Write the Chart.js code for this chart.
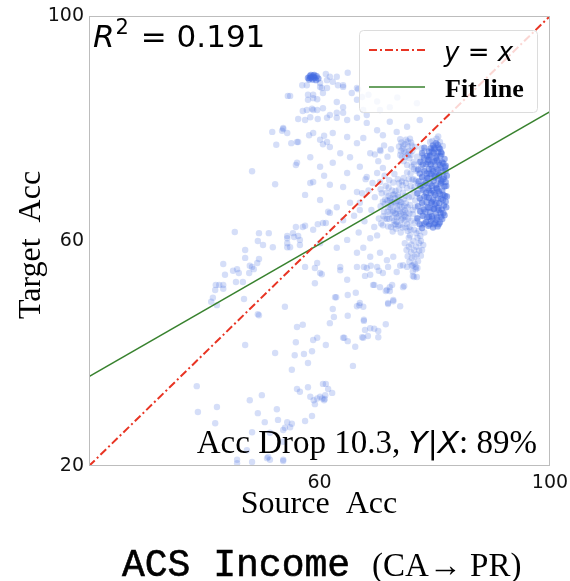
<!DOCTYPE html>
<html>
<head>
<meta charset="utf-8">
<script src="https://cdn.jsdelivr.net/npm/chart.js@4.4.1/dist/chart.umd.min.js"></script>
<style>
  html, body { margin: 0; padding: 0; background: #fff; }
  #wrap { width: 570px; height: 581px; }
</style>
</head>
<body>
<div id="wrap"><canvas id="c" width="570" height="581"></canvas></div>
<script>
// ---- data ----
const xTicks = [60, 100];
const yTicks = [20, 60, 100];
const identityLine = [[20, 20], [100, 100]];
const fitLine = [[20, 35.9], [100, 83.0]];
const rSquared = "0.191";
const accDrop = "10.3";
const yGivenX = "89%";

// dense blob at the top (many overlapping points)
const topBlobPoints = [
  [58.0,89.0],[58.3,89.3],[58.6,89.1],[58.9,89.4],[59.2,89.0],[59.5,89.3],[59.8,88.9],
  [58.2,88.7],[58.8,88.7],[59.4,88.6],[58.5,89.5],[59.1,89.5],[58.4,89.0],[59.0,89.1]
];

// solid core of the main cluster
const coreClusterPoints = [
  [78.5,63.4],[78.4,65.2],[78.6,66.9],[78.5,68.6],[78.4,70.3],[78.6,72.0],[78.5,73.7],[78.7,75.1],
  [78.9,62.7],[79.0,64.3],[78.8,66.0],[79.0,67.7],[78.9,69.4],[78.8,71.1],[79.0,72.8],[78.9,74.4],[79.0,75.9],
  [79.3,63.5],[79.2,65.1],[79.4,66.8],[79.3,68.5],[79.2,70.2],[79.4,71.9],[79.3,73.6],[79.2,75.2],[79.3,76.5],
  [79.7,62.4],[79.6,64.0],[79.8,65.7],[79.7,67.4],[79.6,69.0],[79.8,70.7],[79.7,72.4],[79.6,74.1],[79.8,75.7],[79.7,77.0],
  [80.1,63.2],[80.2,64.9],[80.0,66.5],[80.1,68.2],[80.2,69.9],[80.0,71.5],[80.1,73.2],[80.2,74.8],[80.0,76.3],[80.2,77.4],
  [80.5,62.6],[80.4,64.2],[80.6,65.9],[80.5,67.6],[80.4,69.3],[80.6,71.0],[80.5,72.7],[80.4,74.3],[80.6,75.8],[80.5,77.1],
  [80.9,63.3],[81.0,65.0],[80.8,66.7],[80.9,68.4],[81.0,70.1],[80.8,71.8],[80.9,73.5],[81.0,75.1],[80.9,76.4],
  [81.3,63.9],[81.2,65.6],[81.4,67.3],[81.3,69.0],[81.2,70.7],[81.4,72.4],[81.3,74.0],[81.2,75.5],
  [81.7,64.6],[81.6,66.3],[81.8,68.0],[81.7,69.7],[81.6,71.4],[81.8,73.1],[81.7,74.6],
  [82.0,66.0],[82.1,67.9],[82.0,69.8],[82.1,71.6],[81.9,73.4],
  [78.7,64.2],[78.6,67.8],[78.7,71.2],[78.8,74.0],
  [79.1,63.0],[79.1,65.9],[79.0,69.0],[79.1,72.0],[79.1,75.0],
  [79.5,64.4],[79.5,67.0],[79.5,69.8],[79.5,72.9],[79.5,75.9],
  [79.9,63.0],[79.9,65.8],[79.9,68.6],[79.9,71.3],[79.9,74.2],[79.9,76.6],
  [80.3,63.8],[80.3,66.7],[80.3,69.4],[80.3,72.2],[80.3,75.1],
  [80.7,63.0],[80.7,65.5],[80.7,68.8],[80.7,71.6],[80.7,74.0],[80.7,76.6],
  [81.1,64.3],[81.1,67.5],[81.1,70.4],[81.1,73.0],[81.1,75.8],
  [81.5,65.0],[81.5,68.2],[81.5,71.0],[81.5,73.8],
  [81.9,67.0],[81.9,70.5],[81.9,72.5],
  [77.0,64.0],[77.1,66.2],[77.0,68.5],[77.2,70.6],[77.1,72.7],
  [77.4,63.0],[77.5,65.3],[77.4,67.6],[77.5,69.8],[77.4,72.0],[77.5,74.1],
  [77.8,62.3],[77.9,64.5],[77.8,66.8],[77.9,69.1],[77.8,71.4],[77.9,73.6],[77.8,75.6],
  [78.2,63.1],[78.1,65.6],[78.2,67.9],[78.1,70.0],[78.2,72.4],[78.1,74.8],[78.2,76.6]
];

// medium-density groups around the core
const clusterPoints = [
  [76.6,66.0],[76.9,68.4],[77.1,70.2],[76.8,72.5],[77.3,74.0],[77.0,63.5],[77.4,65.2],[77.6,67.3],
  [77.5,69.4],[77.8,71.3],[77.6,73.1],[77.9,75.2],[77.2,61.8],[77.8,62.8],[78.0,64.4],[78.1,66.3],
  [78.0,68.9],[78.2,70.8],[78.1,72.7],[78.2,74.5],[77.7,76.5],[78.2,76.0],[76.4,62.0],[76.2,64.8],
  [76.5,69.6],[76.3,71.0],[77.0,60.6],[77.6,60.0],
  [74.0,75.3],[74.4,76.4],[74.8,77.2],[75.0,75.8],[75.4,76.8],[75.6,74.7],[75.9,77.5],[74.6,74.2],
  [75.2,73.5],[76.1,76.0],[74.2,77.5],[75.7,78.2],[73.8,76.8],[76.3,74.0],
  [74.1,76.0],[74.5,77.0],[74.9,75.0],[75.3,77.7],[75.6,76.0],[75.0,78.0],[74.3,75.0],[75.8,75.3],
  [76.0,77.0],[74.7,76.0],[75.4,75.4],[74.0,78.1],
  [75.8,72.0],[76.0,73.2],[75.5,71.0],[76.4,72.8],[75.2,72.2],
  [70.3,64.0],[70.6,66.2],[70.8,68.5],[71.0,62.8],[71.2,65.2],[71.4,67.4],[71.5,69.8],[71.7,63.9],
  [71.9,66.0],[72.0,68.0],[72.2,64.8],[72.4,62.5],[72.5,66.9],[72.6,69.0],[72.8,65.4],[73.0,63.6],
  [73.1,67.6],[73.3,64.8],[73.4,66.2],[73.6,68.2],[73.7,62.7],[73.9,65.3],[74.0,67.0],[74.2,63.8],
  [74.3,66.0],[74.5,68.6],[74.7,64.6],[74.9,62.4],[75.0,66.7],[75.2,69.4],[75.4,64.0],[70.5,70.5],
  [71.3,71.6],[72.1,70.8],[73.0,71.9],[73.8,70.3],[74.6,71.2],[72.7,61.7],[74.1,61.5],[75.6,62.5],
  [75.5,67.8],[72.9,67.0],[73.5,65.6],[72.3,65.9],[74.8,65.5],[73.2,68.9],[71.8,67.2],[74.4,69.9],
  [70.7,63.1],[71.1,64.4],[71.3,66.6],[71.6,68.6],[71.9,62.6],[72.1,63.9],[72.3,67.6],[72.6,64.1],
  [72.7,68.2],[72.9,62.9],[73.1,65.0],[73.2,66.7],[73.4,63.4],[73.5,67.1],[73.7,64.4],[73.8,69.2],
  [74.0,62.9],[74.1,64.9],[74.2,66.9],[74.4,62.4],[74.5,65.1],[74.6,67.4],[74.8,63.6],[74.9,68.0],
  [75.1,65.0],[75.2,63.0],[75.3,66.0],[72.0,69.5],[72.8,70.4],[73.6,71.0],[74.3,70.6],[71.4,64.0],
  [71.8,65.2],[72.4,66.4],[73.3,62.2],[74.7,66.2],[73.0,68.3],[71.0,67.0],[70.6,69.2],[75.0,70.3],
  [73.4,64.2],[73.9,66.4],[74.4,64.0],[72.7,65.2],[73.7,67.8],[74.9,64.3],[72.2,67.2],[73.2,63.0],
  [75.5,60.6],[75.8,62.0],[75.9,63.6],[76.2,65.5],[75.7,66.4],[76.0,67.9],[76.3,69.0],[75.8,69.8],
  [76.1,70.9],[76.5,63.2],[75.6,64.9],[76.6,67.2],[76.8,61.4],[76.9,64.1],[76.7,70.7],[76.4,73.6],
  [76.9,75.0],[76.6,76.7],[75.3,61.8],[75.9,59.4],
  [75.7,61.0],[76.3,60.0],[76.8,59.0],[77.3,58.3],[75.9,58.0],[76.5,57.2],[77.1,56.4],[76.0,55.6],
  [76.7,55.0],[77.5,60.9],[78.2,61.5],[74.8,59.6],[75.3,57.3],[78.0,59.3],[76.2,53.8],
  [75.5,59.0],[76.0,57.0],[76.4,58.4],[76.9,57.6],[77.3,59.6],[77.6,57.4],[76.5,56.0],[75.6,56.3],
  [77.0,55.2],[76.2,54.6],[77.8,58.4],[75.1,58.4],
  [79.6,77.8],[80.3,78.2],[80.9,77.6],[79.2,77.6],[81.4,76.9],[80.6,78.6],
  [66.0,64.5],[67.0,66.8],[67.8,63.5],[68.5,69.0],[69.0,65.5],[69.5,62.5],[68.0,71.0],[69.6,67.8],
  [66.8,61.5],[69.2,70.3],[70.0,61.0],[67.4,68.5],[68.8,60.5],
  [70.6,76.0],[71.2,77.0],[71.8,75.0],[70.2,74.2],[72.4,76.3],[69.6,75.4],[71.0,73.0]
];

// sparse scattered points
const scatterPoints = [
  [61.1,89.7],[57.8,87.7],[57.0,87.7],[54.9,85.8],[58.0,86.0],[58.9,86.0],[59.6,85.2],[58.0,85.1],
  [60.6,86.3],[61.3,87.2],[57.8,83.3],[57.1,83.1],[58.7,83.5],[59.6,83.3],[56.3,81.7],[57.5,81.5],
  [58.4,82.0],[59.7,81.7],[61.3,81.9],[51.8,79.4],[53.5,79.6],[54.4,79.2],[53.7,80.1],[58.2,78.8],
  [58.9,79.2],[60.8,78.7],[61.3,77.6],[52.5,77.1],[55.1,77.4],[56.3,77.6],[60.6,77.2],[48.3,72.4],
  [55.9,73.5],[60.8,71.6],[52.3,70.1],[58.4,70.3],[57.5,68.2],[61.5,65.2],[45.3,61.6],[49.5,61.4],
  [51.2,61.4],[55.9,62.5],[57.5,62.7],[59.7,63.0],[61.1,63.2],[54.4,60.9],[55.6,60.7],[61.3,88.6],
  [60.1,88.1],[60.4,87.2],
  [61.8,89.2],[62.3,88.3],[63.2,87.7],[64.1,87.4],[64.9,89.9],[66.7,87.0],[67.4,85.6],[60.1,87.4],
  [58.9,85.4],[58.9,83.3],[60.6,83.6],[61.8,82.4],[63.0,81.9],[64.1,82.8],[64.8,81.5],[66.5,81.9],
  [68.2,82.4],[70.5,83.3],[72.2,83.8],[68.2,81.0],[70.0,79.7],[71.0,78.8],[73.4,79.4],[75.2,80.3],
  [77.4,81.5],[76.9,84.5],[72.2,81.2],[56.1,77.6],[60.1,78.0],[62.3,79.2],[64.8,78.5],[66.5,77.4],
  [67.6,78.3],[68.8,75.6],[70.5,76.2],[61.8,76.7],[63.6,75.6],[65.3,74.9],[56.1,73.9],[58.4,74.9],
  [60.1,73.2],[62.3,73.9],[64.8,72.1],[67.0,73.2],[68.2,71.4],[70.0,72.1],[58.9,70.5],[61.8,70.0],
  [64.1,69.6],[66.5,68.7],[60.1,67.3],[63.0,66.0],[65.3,66.8],[67.0,65.5],[61.8,65.0],[64.1,63.7],
  [60.6,63.2],[58.9,62.0],[57.1,62.5],[55.4,61.4],[54.4,60.5],[54.4,58.9],[56.6,60.2],[60.1,59.6],
  [63.0,58.8],[64.8,60.2],[66.5,57.9],[67.6,58.8],[68.8,57.2],[70.5,57.9],[71.7,56.6],[72.8,57.2],
  [57.5,55.4],[59.6,56.1],[63.6,55.4],[66.5,55.4],[68.2,55.2],[70.0,55.4],[71.0,54.3],[73.4,54.5],
  [75.2,55.4],[76.2,55.7],[60.1,54.3],[59.2,52.5],[69.3,52.2],[70.5,51.8],[72.2,51.8],[74.5,51.8],
  [76.9,53.6],[64.8,53.1],
  [63.0,89.2],[64.1,87.7],[66.5,87.2],[65.6,86.3],[63.0,84.7],[64.1,83.8],[66.5,85.1],[67.6,83.3],
  [63.0,82.8],[68.5,86.0],[70.0,84.8],[73.5,85.5],
  [71.7,51.3],[72.6,52.2],[54.0,48.3],[62.7,50.0],[64.9,50.4],[66.3,50.8],[66.9,48.6],[62.3,47.9],
  [64.9,46.7],[67.7,46.0],[71.9,48.8],[72.8,49.3],[74.0,48.4],[56.1,44.7],[57.1,45.1],[61.8,45.4],
  [64.3,42.8],[64.9,42.2],[67.9,44.2],[68.8,44.5],[70.2,44.0],[71.5,45.2],[67.4,42.9],[68.4,43.1],
  [70.2,42.9],[55.9,42.0],[58.9,42.4],[61.1,41.5],[58.7,40.4],[57.3,39.9],[66.2,41.2],[58.0,38.3],
  [55.2,37.1],[65.8,37.8],[56.1,33.7],[56.6,33.2],[58.0,34.0],[60.6,34.6],[61.1,34.6],[61.5,33.7],
  [62.2,33.0],[58.4,32.3],[59.0,31.7],[59.2,31.0],[60.1,32.3],[60.8,31.7],[61.0,32.6],[58.7,28.9],
  [57.5,28.0],[55.2,27.5],[54.0,26.8],[53.7,24.3],[53.7,21.1],[60.5,32.0],[60.9,31.9],[59.6,32.0],
  [56.3,60.9],[49.3,60.0],[50.2,59.3],[51.9,58.9],[54.4,59.6],[54.9,58.9],[56.6,59.3],[47.1,57.0],
  [43.3,55.9],[47.9,55.6],[49.2,56.1],[49.5,56.8],[48.6,55.0],[45.0,54.7],[45.7,55.0],[46.0,54.3],
  [43.6,54.0],[46.7,52.7],[45.5,52.7],[42.0,52.2],[42.6,52.2],[43.3,52.2],[41.9,51.3],[43.3,51.5],
  [41.2,49.2],[41.5,49.9],[46.9,49.7],[49.5,46.8],[47.1,41.5],[52.3,40.1],[55.7,39.7],[38.7,34.2],
  [50.0,32.6],[47.9,31.7],[52.6,30.1],[42.2,30.5],[38.9,29.6],[49.3,29.4],[52.8,28.2],[41.9,27.6],
  [50.5,27.8],[54.4,27.8],[54.9,26.9],[48.3,26.0],[53.7,26.4],[51.4,25.9],[47.4,22.8],[51.1,21.6],
  [51.4,21.1],[48.3,20.7],[45.7,21.1],[42.2,48.6],[49.3,47.0],[45.7,20.5],[50.9,21.4],[53.7,20.9],
  [54.5,85.8],[53.7,79.9],[47.1,58.4],[48.3,55.4],[47.8,54.3],
  [59.2,55.2],[60.4,54.1],[63.6,54.8],[67.7,55.4],[68.9,55.6],[67.9,53.8],[68.8,54.0],[70.3,54.7],
  [71.9,55.4],[74.0,55.6],[74.5,55.7],[76.7,55.4],[76.4,53.6],[69.5,52.2],[71.5,51.1],[72.2,51.1],
  [74.7,52.0],[62.9,50.0],[72.8,49.5],[71.9,49.0],[66.5,48.4],[67.0,49.0],[67.6,48.3],[62.5,46.5],
  [67.7,45.8],[64.1,42.8],[67.6,42.8],[69.5,44.4],[59.6,42.8]
];

const toXY = arr => arr.map(p => ({ x: p[0], y: p[1] }));

// ---- fonts ----
const SANS = '"DejaVu Sans", sans-serif';
const SERIF = '"Liberation Serif", "Times New Roman", serif';
const MONO = '"Liberation Mono", "DejaVu Sans Mono", monospace';

function drawRuns(ctx, runs, x, y, align, strokeW) {
  let total = 0;
  runs.forEach(r => { ctx.font = r[1]; total += ctx.measureText(r[0]).width + (r[3] || 0); });
  let cx = x;
  if (align === 'right') cx = x - total;
  else if (align === 'center') cx = x - total / 2;
  ctx.textAlign = 'left';
  ctx.textBaseline = 'alphabetic';
  runs.forEach(r => {
    ctx.font = r[1];
    ctx.fillText(r[0], cx, y + (r[2] || 0));
    if (strokeW) { ctx.lineWidth = strokeW; ctx.strokeStyle = ctx.fillStyle; ctx.strokeText(r[0], cx, y + (r[2] || 0)); }
    cx += ctx.measureText(r[0]).width + (r[3] || 0);
  });
}

const decorPlugin = {
  id: 'decor',
  afterDatasetsDraw(chart) {
    const ctx = chart.ctx;
    const a = chart.chartArea;
    ctx.save();
    // frame
    ctx.strokeStyle = '#bdbdbd';
    ctx.lineWidth = 1;
    ctx.strokeRect(a.left + 0.5, a.top + 0.5, a.right - a.left - 1, a.bottom - a.top - 1);
    ctx.fillStyle = '#000';
    // R^2 annotation
    drawRuns(ctx, [
      ['R', 'italic 31px ' + SANS, 0, 1],
      ['2', '21px ' + SANS, -13, 2],
      [' = ' + rSquared, '31px ' + SANS]
    ], a.left + 4, a.top + 31, 'left');
    // Acc drop annotation
    drawRuns(ctx, [
      ['Acc Drop ' + accDrop + ', ', '33px ' + SERIF],
      ['Y', 'italic 31px ' + SANS],
      ['|', '31px ' + SANS],
      ['X', 'italic 31px ' + SANS],
      [': ' + yGivenX, '33px ' + SERIF]
    ], a.right - 13, a.bottom - 13, 'right');
    // legend
    const lx = a.left + 270, ly = a.top + 14, lw = 178, lh = 82;
    ctx.fillStyle = 'rgba(255,255,255,0.8)';
    ctx.strokeStyle = '#dcdcdc';
    ctx.lineWidth = 1;
    ctx.beginPath();
    if (ctx.roundRect) ctx.roundRect(lx + 0.5, ly + 0.5, lw, lh, 4); else ctx.rect(lx + 0.5, ly + 0.5, lw, lh);
    ctx.fill(); ctx.stroke();
    ctx.lineWidth = 2;
    ctx.strokeStyle = 'rgb(232,52,35)';
    ctx.setLineDash([8, 3, 2, 3]);
    ctx.beginPath(); ctx.moveTo(lx + 10, ly + 20); ctx.lineTo(lx + 66, ly + 20); ctx.stroke();
    ctx.setLineDash([]);
    ctx.lineWidth = 1.5;
    ctx.strokeStyle = 'rgb(56,130,46)';
    ctx.beginPath(); ctx.moveTo(lx + 10, ly + 57); ctx.lineTo(lx + 66, ly + 57); ctx.stroke();
    ctx.fillStyle = '#000';
    drawRuns(ctx, [
      ['y', 'italic 26px ' + SANS],
      [' = ', '26px ' + SANS],
      ['x', 'italic 26px ' + SANS]
    ], lx + 85, ly + 31, 'left');
    drawRuns(ctx, [['Fit line', 'bold 26px ' + SERIF]], lx + 86, ly + 67, 'left');
    // axis titles
    drawRuns(ctx, [['Source  Acc', '32px ' + SERIF]], 319, 513, 'center');
    ctx.save();
    ctx.translate(40, 245);
    ctx.rotate(-Math.PI / 2);
    drawRuns(ctx, [['Target  Acc', '32px ' + SERIF]], 0, 0, 'center');
    ctx.restore();
    // chart caption
    drawRuns(ctx, [['ACS Income', '38px ' + MONO]], 122, 576, 'left', 0.6);
    drawRuns(ctx, [['(CA\u2192 PR)', '33px ' + SERIF]], 372, 576, 'left');
    ctx.restore();
  }
};

const ptColor = 'rgba(65,105,225,0.22)';
const denseColor = 'rgba(65,105,225,0.5)';

new Chart(document.getElementById('c'), {
  type: 'scatter',
  data: {
    datasets: [
      { label: 'y = x', type: 'line', data: toXY(identityLine), borderColor: 'rgb(232,52,35)', borderWidth: 2,
        borderDash: [8, 3, 2, 3], pointRadius: 0, fill: false, order: 0 },
      { label: 'Fit line', type: 'line', data: toXY(fitLine), borderColor: 'rgb(56,130,46)', borderWidth: 1.5,
        pointRadius: 0, fill: false, order: 0 },
      { label: 'dense', data: toXY(coreClusterPoints.concat(topBlobPoints)), backgroundColor: denseColor,
        borderWidth: 0, pointRadius: 3.2, order: 1 },
      { label: 'points', data: toXY(scatterPoints.concat(clusterPoints)), backgroundColor: ptColor,
        borderWidth: 0, pointRadius: 3.2, order: 2 }
    ]
  },
  options: {
    responsive: false,
    devicePixelRatio: 1,
    animation: false,
    events: [],
    layout: { padding: { left: 0, right: 20, top: 16, bottom: 0 } },
    plugins: { legend: { display: false }, tooltip: { enabled: false }, title: { display: false } },
    scales: {
      x: {
        type: 'linear', min: 20, max: 100,
        afterBuildTicks: s => { s.ticks = xTicks.map(v => ({ value: v })); },
        afterFit: s => { s.height = 115; s.paddingLeft = 0; s.paddingRight = 0; },
        grid: { display: false, drawTicks: false },
        border: { display: false },
        ticks: { color: '#111', font: { family: SANS, size: 19 }, padding: 6, maxRotation: 0, autoSkip: false }
      },
      y: {
        type: 'linear', min: 20, max: 100,
        afterBuildTicks: s => { s.ticks = yTicks.map(v => ({ value: v })); },
        afterFit: s => { s.width = 89; s.paddingTop = 0; s.paddingBottom = 0; },
        grid: { display: false, drawTicks: false },
        border: { display: false },
        ticks: { color: '#111', font: { family: SANS, size: 19 }, padding: 5, autoSkip: false }
      }
    }
  },
  plugins: [decorPlugin]
});
</script>
</body>
</html>
